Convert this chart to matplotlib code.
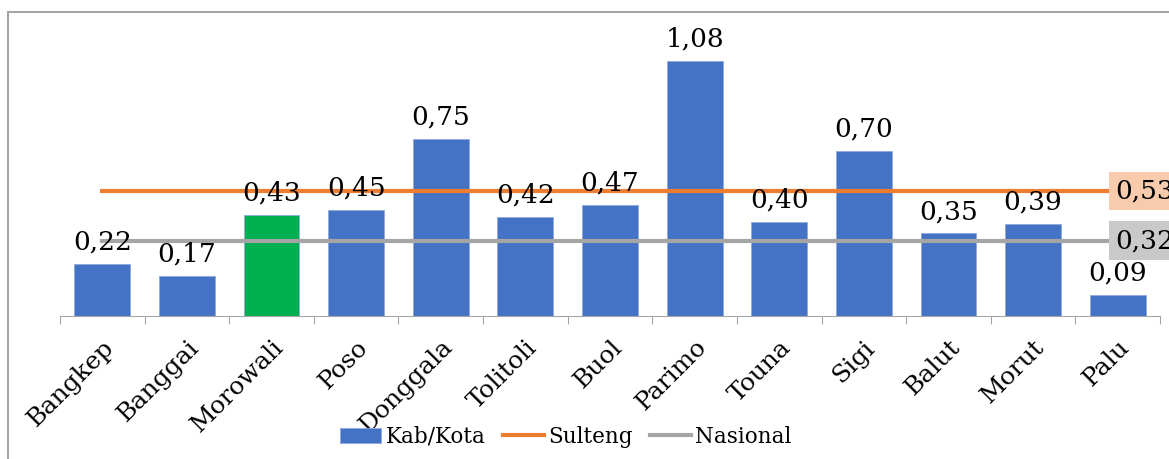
import matplotlib.pyplot as plt
from matplotlib.patches import Rectangle

# data
regions = ['Bangkep', 'Banggai', 'Morowali', 'Poso', 'Donggala', 'Tolitoli', 'Buol',
           'Parimo', 'Touna', 'Sigi', 'Balut', 'Morut', 'Palu']
values = [0.22, 0.17, 0.43, 0.45, 0.75, 0.42, 0.47, 1.08, 0.40, 0.70, 0.35, 0.39, 0.09]
sulteng = 0.53
nasional = 0.32
highlight = 'Morowali'

plt.rcParams['font.family'] = ['DejaVu Serif']

blue = '#4472C4'
green = '#00B050'
orange = '#ED7D31'
grey = '#A5A5A5'

fig = plt.figure(figsize=(11.69, 4.59), dpi=100)
ax = fig.add_axes([60 / 1169, 1 - 316 / 459, 1100 / 1169, 283 / 459])

x = list(range(len(regions)))
colors = [green if r == highlight else blue for r in regions]
bars = ax.bar(x, values, width=0.66, color=colors, edgecolor='#8FAADC', linewidth=0.6, zorder=2)

l_sul, = ax.plot([x[0], x[-1]], [sulteng, sulteng], color=orange, lw=3, zorder=3)
l_nas, = ax.plot([x[0], x[-1]], [nasional, nasional], color=grey, lw=3, zorder=3)

for xi, v in zip(x, values):
    ax.text(xi, v + 0.04, f'{v:.2f}'.replace('.', ','), ha='center', va='bottom',
            fontsize=19, zorder=4)

# value boxes at the right edge (cut off by the figure edge, as in the original)
ax.text(11.97, sulteng, f'{sulteng:.2f}'.replace('.', ','), ha='left', va='center', fontsize=19,
        bbox=dict(boxstyle='square,pad=0.25', fc='#F8CBAD', ec='none'), zorder=5, clip_on=False)
ax.text(11.97, nasional, f'{nasional:.2f}'.replace('.', ','), ha='left', va='center', fontsize=19,
        bbox=dict(boxstyle='square,pad=0.25', fc='#C9C9C9', ec='none'), zorder=5, clip_on=False)

ax.set_xlim(-0.5, len(regions) - 0.5)
ax.set_ylim(0, 1.2)
ax.set_yticks([])
for s in ['top', 'right', 'left']:
    ax.spines[s].set_visible(False)
ax.spines['bottom'].set_color('#A6A6A6')

ax.set_xticks([i - 0.5 for i in range(len(regions) + 1)], minor=False)
ax.set_xticklabels([])
ax.tick_params(axis='x', which='major', length=6, color='#A6A6A6')
ax.set_xticks(x, minor=True)
ax.set_xticklabels(regions, minor=True, rotation=45, ha='right', rotation_mode='anchor',
                   fontsize=18)
ax.tick_params(axis='x', which='minor', length=0, pad=14)

fig.legend([bars, l_sul, l_nas], ['Kab/Kota', 'Sulteng', 'Nasional'],
           loc='center', bbox_to_anchor=(0.484, 0.048), ncol=3, frameon=False, fontsize=15.5,
           handlelength=1.9, handletextpad=0.2, columnspacing=0.8, borderpad=0)

fig.patches.append(Rectangle((8 / 1169, -0.1), 1.2, 1.1 - 12 / 459, transform=fig.transFigure,
                             fill=False, ec='#A6A6A6', lw=1.5))

fig.savefig('out.png', dpi=100)
